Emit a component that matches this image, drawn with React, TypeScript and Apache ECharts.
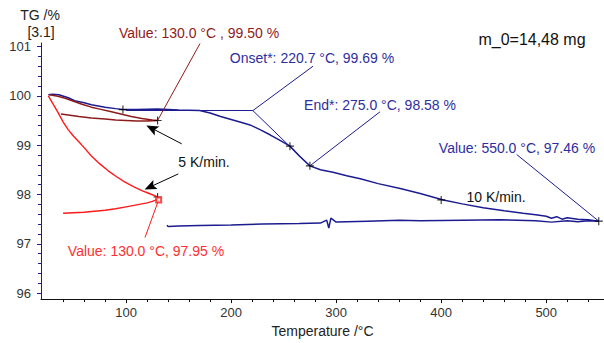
import React, { useEffect, useRef } from "react";
import * as echarts from "echarts";

// ---- axis ticks ----
const tempTicks = [100, 200, 300, 400, 500];
const tempMinorTicks = [40, 60, 80, 120, 140, 160, 180, 220, 240, 260, 280, 320, 340, 360, 380, 420, 440, 460, 480, 520, 540];
const tgTicks = [96, 97, 98, 99, 100, 101];
const tgMinorTicks = [96.2, 96.4, 96.6, 96.8, 97.2, 97.4, 97.6, 97.8, 98.2, 98.4, 98.6, 98.8, 99.2, 99.4, 99.6, 99.8, 100.2, 100.4, 100.6, 100.8];

// ---- 10 K/min (navy) heating then cooling ----
const navyHeatT = [26, 30, 36, 45, 51, 60, 67, 80, 90, 97, 110, 130, 150, 170, 180, 190, 200, 210, 218, 228, 237, 247, 256, 265, 275, 285, 297, 310, 323, 340, 361, 380, 402, 420, 440, 460, 478, 490, 500, 505, 510, 515, 520, 530, 540, 550];
const navyHeatTG = [100.02, 100.03, 100.02, 99.96, 99.9, 99.86, 99.82, 99.77, 99.74, 99.72, 99.72, 99.73, 99.71, 99.7, 99.65, 99.58, 99.52, 99.46, 99.41, 99.31, 99.21, 99.09, 98.98, 98.78, 98.58, 98.5, 98.45, 98.38, 98.32, 98.22, 98.12, 98.02, 97.89, 97.81, 97.73, 97.67, 97.62, 97.59, 97.56, 97.52, 97.55, 97.5, 97.53, 97.5, 97.49, 97.46];
const navyCoolT = [550, 540, 530, 520, 505, 490, 456, 420, 380, 360, 330, 300, 295, 293, 291, 285, 265, 230, 200, 170, 150, 140, 139];
const navyCoolTG = [97.46, 97.47, 97.45, 97.47, 97.44, 97.47, 97.49, 97.48, 97.47, 97.48, 97.46, 97.44, 97.52, 97.32, 97.48, 97.42, 97.41, 97.4, 97.38, 97.37, 97.36, 97.35, 97.38];

// ---- 5 K/min (maroon) ----
const maroonHeatT = [27, 35, 42, 50, 58, 67, 75, 85, 95, 105, 115, 125, 130];
const maroonHeatTG = [100.02, 99.99, 99.95, 99.89, 99.83, 99.77, 99.73, 99.68, 99.63, 99.58, 99.54, 99.51, 99.5];
const maroonCoolT = [130, 120, 110, 100, 90, 80, 67, 55, 45, 38];
const maroonCoolTG = [99.5, 99.49, 99.49, 99.5, 99.51, 99.53, 99.55, 99.58, 99.61, 99.63];

// ---- red ----
const redHeatT = [26, 30, 35, 40, 45, 50, 55, 60, 67, 75, 83, 91, 99, 107, 115, 122, 130];
const redHeatTG = [100.0, 99.85, 99.67, 99.47, 99.31, 99.18, 99.07, 98.95, 98.78, 98.62, 98.48, 98.36, 98.25, 98.16, 98.08, 98.02, 97.95];
const redCoolT = [130, 125, 120, 110, 100, 90, 80, 70, 60, 50, 40];
const redCoolTG = [97.9, 97.86, 97.83, 97.79, 97.75, 97.71, 97.68, 97.66, 97.64, 97.63, 97.62];

// ---- evaluation points ----
const crossT = [97, 256, 275, 400, 550, 130, 130];
const crossTG = [99.72, 98.98, 98.58, 97.89, 97.46, 99.5, 97.95];
const onset = [220.7, 99.69];
const endPt = [275.0, 98.58];
const value550 = [550.0, 97.46];
const value130a = [130.0, 99.5];
const value130b = [131, 97.89];

const NAVY = "#1c1c90";
const NAVY_TXT = "#2e2e9e";
const MAROON = "#8e1b1b";
const RED = "#ff1a1a";
const FONT = "Arial, 'Liberation Sans', sans-serif";

const zip = (a: number[], b: number[]) => a.map((v, i) => [v, b[i]]);

const seg = (p: number[], q: number[], color: string, width = 1) => [
  { coord: p, lineStyle: { color, width, type: "solid" } },
  { coord: q },
];

const arrow = (tail: number[], tip: number[]) => [
  { coord: tail, symbol: "none", lineStyle: { color: "#000", width: 1, type: "solid" } },
  { coord: tip, symbol: "path://M5,0L10,12L5,9.5L0,12Z", symbolSize: [10, 12] },
];

const text = (t: string, x: number, y: number, fill: string, size = 14) => ({
  type: "text",
  x,
  y,
  silent: true,
  style: {
    text: t,
    fill,
    font: `${size}px ${FONT}`,
    align: "center",
    verticalAlign: "middle",
    textAlign: "center",
    textVerticalAlign: "middle",
  },
});

export default function App() {
  const ref = useRef<HTMLDivElement>(null);
  useEffect(() => {
    if (!ref.current) return;
    const chart = echarts.init(ref.current, undefined, { renderer: "svg" });
    const markBase = {
      silent: true,
      symbol: ["none", "none"],
      label: { show: false },
      emphasis: { disabled: true },
      animation: false,
    };
    chart.setOption({
      animation: false,
      backgroundColor: "#fff",
      grid: { left: 41, right: 0, top: 43, bottom: 38.5, containLabel: false },
      xAxis: [
        {
          type: "value",
          min: 19,
          max: 555,
          position: "bottom",
          name: "Temperature /°C",
          nameLocation: "middle",
          nameGap: 21,
          nameTextStyle: { fontSize: 14, color: "#222", fontFamily: FONT },
          axisLine: { show: true, lineStyle: { color: "#111", width: 1 } },
          axisTick: { show: true, customValues: tempTicks, length: 4, lineStyle: { color: "#111" } },
          axisLabel: { customValues: tempTicks, fontSize: 13, color: "#333", fontFamily: FONT, margin: 7 },
          splitLine: { show: false },
        },
        {
          type: "value",
          min: 19,
          max: 555,
          position: "bottom",
          axisLine: { show: false },
          axisTick: { show: true, customValues: tempMinorTicks, length: 3, lineStyle: { color: "#111" } },
          axisLabel: { show: false },
          splitLine: { show: false },
        },
      ],
      yAxis: [
        {
          type: "value",
          min: 95.88,
          max: 101.07,
          position: "left",
          axisLine: { show: true, lineStyle: { color: NAVY, width: 1 } },
          axisTick: { show: true, customValues: tgTicks, length: 4, lineStyle: { color: NAVY } },
          axisLabel: { customValues: tgTicks, fontSize: 13, color: "#333", fontFamily: FONT, margin: 10 },
          splitLine: { show: false },
        },
        {
          type: "value",
          min: 95.88,
          max: 101.07,
          position: "left",
          axisLine: { show: false },
          axisTick: { show: true, customValues: tgMinorTicks, length: 3, lineStyle: { color: NAVY } },
          axisLabel: { show: false },
          splitLine: { show: false },
        },
      ],
      series: [
        {
          type: "line",
          data: [...zip(navyHeatT, navyHeatTG), ...zip(navyCoolT, navyCoolTG)],
          symbol: "none",
          lineStyle: { color: NAVY, width: 1.5 },
          silent: true,
          markLine: {
            ...markBase,
            data: [
              seg([100, 99.7], [onset[0], 99.7], NAVY),
              seg([onset[0], 99.7], endPt, NAVY),
              seg([278.0, 100.6], [onset[0], 99.7], NAVY),
              seg([341.7, 99.675], endPt, NAVY),
              seg([471.9, 98.81], value550, NAVY),
            ],
          },
        },
        {
          type: "line",
          data: [...zip(maroonHeatT, maroonHeatTG), ...zip(maroonCoolT, maroonCoolTG)],
          symbol: "none",
          lineStyle: { color: MAROON, width: 1.5 },
          silent: true,
          markLine: {
            ...markBase,
            data: [
              seg([170.4, 101.06], value130a, MAROON),
              arrow([153.0, 99.026], [124.4, 99.343]),
              arrow([149.7, 98.417], [122.8, 98.153]),
            ],
          },
        },
        {
          type: "line",
          data: [...zip(redHeatT, redHeatTG), ...zip(redCoolT, redCoolTG)],
          symbol: "none",
          lineStyle: { color: RED, width: 1.4 },
          silent: true,
          markLine: {
            ...markBase,
            data: [seg([118.0, 97.127], value130b, RED)],
          },
        },
        {
          type: "scatter",
          data: zip(crossT, crossTG),
          symbol: "path://M0,4.3H10V5.7H0Z M4.3,0H5.7V10H4.3Z",
          symbolSize: 8,
          itemStyle: { color: "#000" },
          silent: true,
          z: 5,
        },
        {
          type: "scatter",
          data: [value130b],
          symbol: "emptyRect",
          symbolSize: 5,
          itemStyle: { color: RED, borderColor: RED, borderWidth: 1 },
          silent: true,
          z: 5,
        },
      ],
      graphic: [
        text("TG /%", 40, 15, "#222"),
        text("[3.1]", 41, 32, "#222"),
        text("Value: 130.0 °C , 99.50 %", 199, 33, MAROON),
        text("Onset*: 220.7 °C, 99.69 %", 312, 58, NAVY_TXT),
        text("End*: 275.0 °C, 98.58 %", 380, 105, NAVY_TXT),
        text("Value: 550.0 °C, 97.46 %", 517, 148, NAVY_TXT),
        text("m_0=14,48 mg", 532, 39, "#111", 16),
        text("5 K/min.", 204, 162, "#111"),
        text("10 K/min.", 496, 197, "#111"),
        text("Value: 130.0 °C, 97.95 %", 146, 251, "#ff3030"),
      ],
    });
    return () => chart.dispose();
  }, []);
  return (
    <div
      ref={ref}
      style={{ position: "fixed", left: 0, top: 0, width: 604, height: 343, background: "#fff" }}
    />
  );
}
